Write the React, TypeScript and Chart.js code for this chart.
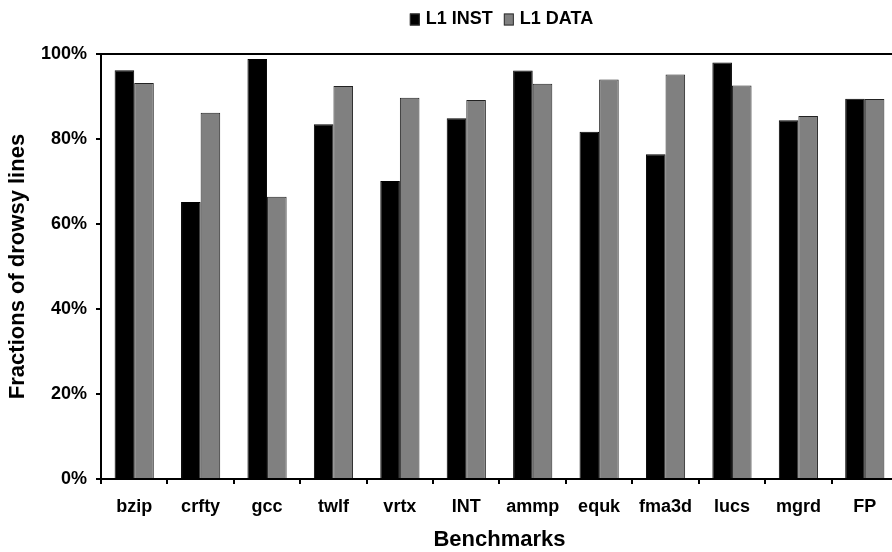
import React, { useEffect, useRef } from 'react';
import { Chart, registerables } from 'chart.js';

Chart.register(...registerables);

const categories = ['bzip', 'crfty', 'gcc', 'twlf', 'vrtx', 'INT', 'ammp', 'equk', 'fma3d', 'lucs', 'mgrd', 'FP'];
const l1Inst = [96.2, 65.2, 98.8, 83.5, 70.1, 84.9, 96.1, 81.7, 76.4, 98.0, 84.4, 89.5];
const l1Data = [93.2, 86.2, 66.4, 92.5, 89.7, 89.2, 93.0, 94.0, 95.2, 92.6, 85.4, 89.4];
const seriesLabels = ['L1 INST', 'L1 DATA'];
const yTickValues = [0, 20, 40, 60, 80, 100];

const FONT = '"Liberation Sans", Arial, sans-serif';

const legendPlugin = {
  id: 'topLegend',
  afterDraw(chart: any) {
    const ctx = chart.ctx;
    ctx.save();
    ctx.font = `bold 18px ${FONT}`;
    ctx.textBaseline = 'middle';
    ctx.textAlign = 'left';
    const items = chart.data.datasets.map((ds: any) => ({
      label: ds.label,
      fill: ds.backgroundColor,
      stroke: ds.borderColor,
      w: ctx.measureText(ds.label).width,
    }));
    const box = 10, boxH = 12, gapText = 6, gapItem = 11;
    const total = items.reduce((s: number, it: any, i: number) => s + box + gapText + it.w + (i ? gapItem : 0), 0);
    const cx = (chart.chartArea.left + chart.chartArea.right) / 2 + 2;
    let x = cx - total / 2;
    const cy = 19.5;
    items.forEach((it: any, i: number) => {
      if (i) x += gapItem;
      ctx.fillStyle = it.fill;
      ctx.fillRect(x, cy - boxH / 2, box, boxH);
      ctx.strokeStyle = '#333';
      ctx.lineWidth = 1;
      ctx.strokeRect(x + 0.5, cy - boxH / 2 + 0.5, box - 1, boxH - 1);
      x += box + gapText;
      ctx.fillStyle = '#000';
      ctx.fillText(it.label, x, cy);
      x += it.w;
    });
    ctx.restore();
  },
};

export default function App() {
  const ref = useRef<HTMLCanvasElement>(null);

  useEffect(() => {
    if (!ref.current) return;
    const chart = new Chart(ref.current, {
      type: 'bar',
      data: {
        labels: categories,
        datasets: [
          {
            label: seriesLabels[0],
            data: l1Inst,
            backgroundColor: '#000000',
            borderColor: '#000000',
            borderWidth: 1,
            categoryPercentage: 0.59,
            barPercentage: 1,
          },
          {
            label: seriesLabels[1],
            data: l1Data,
            backgroundColor: '#808080',
            borderColor: '#222222',
            borderWidth: 1,
            categoryPercentage: 0.59,
            barPercentage: 1,
          },
        ],
      },
      options: {
        responsive: false,
        animation: false,
        devicePixelRatio: 1,
        layout: { padding: { top: 54, right: 2, left: 0, bottom: 0 } },
        plugins: {
          legend: { display: false },
          tooltip: { enabled: false },
        },
        scales: {
          x: {
            type: 'category',
            offset: true,
            afterFit: (s: any) => { s.height = 73; },
            grid: {
              offset: true,
              drawOnChartArea: false,
              drawTicks: true,
              tickLength: 5,
              tickColor: '#000',
              lineWidth: 2,
            },
            border: { display: true, color: '#000', width: 2 },
            ticks: {
              color: '#000',
              font: { family: FONT, size: 18, weight: 'bold' },
              padding: 12,
              maxRotation: 0,
              autoSkip: false,
            },
            title: {
              display: true,
              text: 'Benchmarks',
              color: '#000',
              font: { family: FONT, size: 22, weight: 'bold', lineHeight: 1.1 },
              padding: { top: 0, bottom: 0 },
            },
          },
          y: {
            min: 0,
            max: 100,
            afterFit: (s: any) => { s.width = 101; },
            afterBuildTicks: (s: any) => { s.ticks = yTickValues.map((v) => ({ value: v })); },
            grid: {
              drawOnChartArea: true,
              color: (c: any) => (c.tick && c.tick.value === 100 ? '#000' : 'rgba(0,0,0,0)'),
              tickColor: '#000',
              drawTicks: true,
              tickLength: 5,
              lineWidth: 2,
            },
            border: { display: true, color: '#000', width: 2 },
            ticks: {
              color: '#000',
              font: { family: FONT, size: 18, weight: 'bold' },
              padding: 9,
              callback: (v: any) => `${v}%`,
            },
            title: {
              display: true,
              text: 'Fractions of drowsy lines',
              color: '#000',
              font: { family: FONT, size: 22, weight: 'bold', lineHeight: 1.2 },
              padding: { top: 5, bottom: 0 },
            },
          },
        },
      } as any,
      plugins: [legendPlugin],
    });
    return () => chart.destroy();
  }, []);

  return (
    <div style={{ position: 'fixed', left: 0, top: 0, width: 892, height: 552, overflow: 'hidden', background: '#fff' }}>
      <canvas ref={ref} width={900} height={552} style={{ width: 900, height: 552, display: 'block' }} />
    </div>
  );
}
